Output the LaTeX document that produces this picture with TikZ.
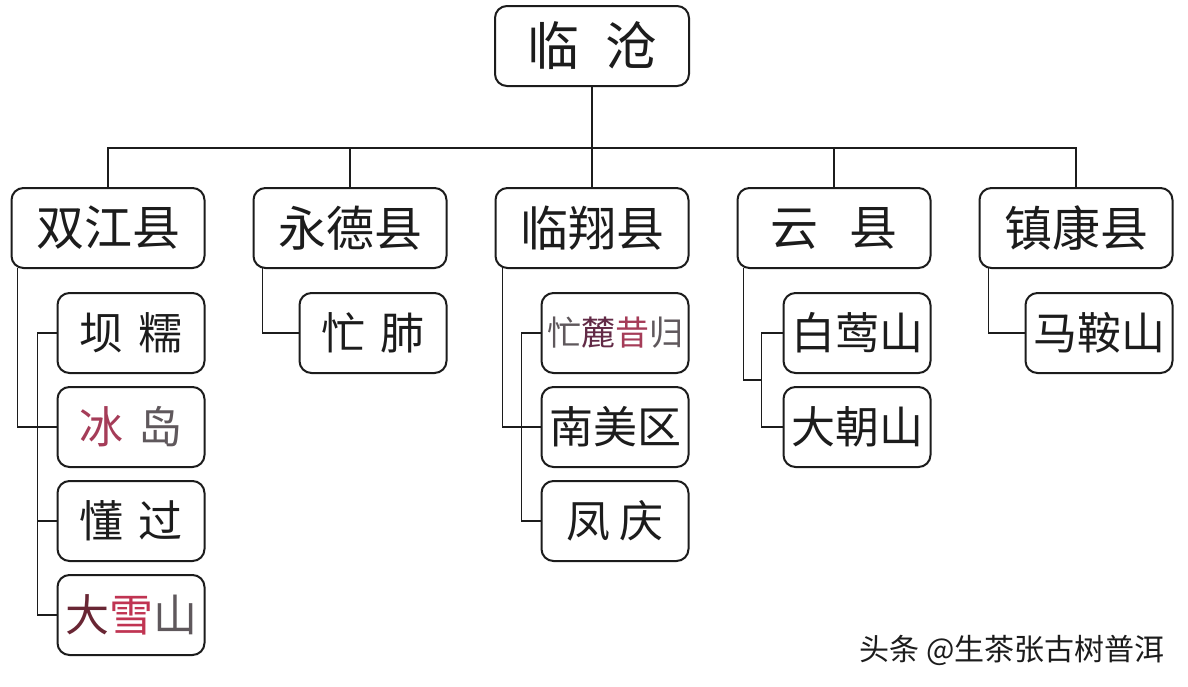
\documentclass[tikz,border=0pt]{standalone}
\usepackage{fontspec}
\newfontfamily\cjk{Noto Sans CJK SC}
\usetikzlibrary{positioning}
\definecolor{ink}{RGB}{28,28,28}
\definecolor{redA}{RGB}{165,60,88}
\definecolor{redB}{RGB}{105,38,52}
\definecolor{redC}{RGB}{192,52,82}
\definecolor{purA}{RGB}{98,42,70}
\definecolor{greyA}{RGB}{95,88,92}

\begin{document}
\begin{tikzpicture}[
  box/.style={draw=ink, rounded corners=6pt, line width=1pt, inner sep=0pt, outer sep=0pt, text=ink,
    font=\cjk\fontsize{24}{24}\selectfont, minimum width=96.5pt, minimum height=40pt},
  rootbox/.style={box, minimum width=97pt, font=\cjk\fontsize{26}{26}\selectfont},
  kid/.style={box, minimum width=73.5pt, font=\cjk\fontsize{22}{22}\selectfont},
  link/.style={draw=ink, line width=0.9pt}
]
\useasboundingbox[fill=white] (0,0) rectangle (594pt,-343pt);

\node[rootbox] (lc) at (296pt,-23pt) {临\hspace{0.5em}沧};

\node[box, below=51pt of lc] (lx) {临翔县};
\node[box, left=24.5pt of lx] (yd) {永德县};
\node[box, left=24.5pt of yd] (sj) {双江县};
\node[box, right=24.5pt of lx] (yx) {云\hspace{0.65em}县};
\node[box, right=24.5pt of yx] (zk) {镇康县};

\node[kid, below=12.5pt of sj.south east, anchor=north east] (bn) {坝\hspace{0.35em}糯};
\node[kid, below=7pt of bn] (bd) {\textcolor{redA}{冰}\hspace{0.35em}\textcolor{greyA}{岛}};
\node[kid, below=7pt of bd] (dg) {懂\hspace{0.35em}过};
\node[kid, below=7pt of dg] (dxs) {\textcolor{redB}{大}\textcolor{redC}{雪}\textcolor{greyA}{山}};

\node[kid, below=12.5pt of yd.south east, anchor=north east] (mf) {忙\hspace{0.35em}肺};

\node[kid, below=12.5pt of lx.south east, anchor=north east, font=\cjk\fontsize{17}{17}\selectfont] (mlxg) {\textcolor{greyA}{忙}\textcolor{purA}{麓}\textcolor{redA}{昔}\textcolor{greyA}{归}};
\node[kid, below=7pt of mlxg] (nmq) {南美区};
\node[kid, below=7pt of nmq] (fq) {凤\hspace{0.2em}庆};

\node[kid, below=12.5pt of yx.south east, anchor=north east] (bys) {白莺山};
\node[kid, below=7pt of bys] (dcs) {大朝山};

\node[kid, below=12.5pt of zk.south east, anchor=north east] (mas) {马鞍山};

\coordinate (bus) at ([yshift=-31pt]lc.south);
\draw[link] (lc.south) -- (bus);
\draw[link] (sj.north) |- (bus);
\draw[link] (zk.north) |- (bus);
\foreach \c in {yd, lx, yx}
  \draw[link] (\c.north) -- (\c.north |- bus);

\draw[link] ([xshift=3pt]sj.south west) |- (bd.west);
\draw[link] (bn.west) -- ++(-10pt,0) |- (dxs.west);
\draw[link] (dg.west) -- ++(-10pt,0);

\draw[link] ([xshift=4.5pt]yd.south west) |- (mf.west);

\draw[link] ([xshift=3.5pt]lx.south west) |- (nmq.west);
\draw[link] (mlxg.west) -- ++(-10pt,0) |- (fq.west);

\draw[link] ([xshift=3pt]yx.south west) |- ([xshift=-11pt,yshift=-3.5pt]bys.south west);
\draw[link] (bys.west) -- ++(-11pt,0) |- (dcs.west);

\draw[link] ([xshift=4.5pt]zk.south west) |- (mas.west);

\node[text=ink, font=\cjk\fontsize{15}{15}\selectfont] (wm) at (506pt,-325pt) {头条 @生茶张古树普洱};
\end{tikzpicture}
\end{document}
